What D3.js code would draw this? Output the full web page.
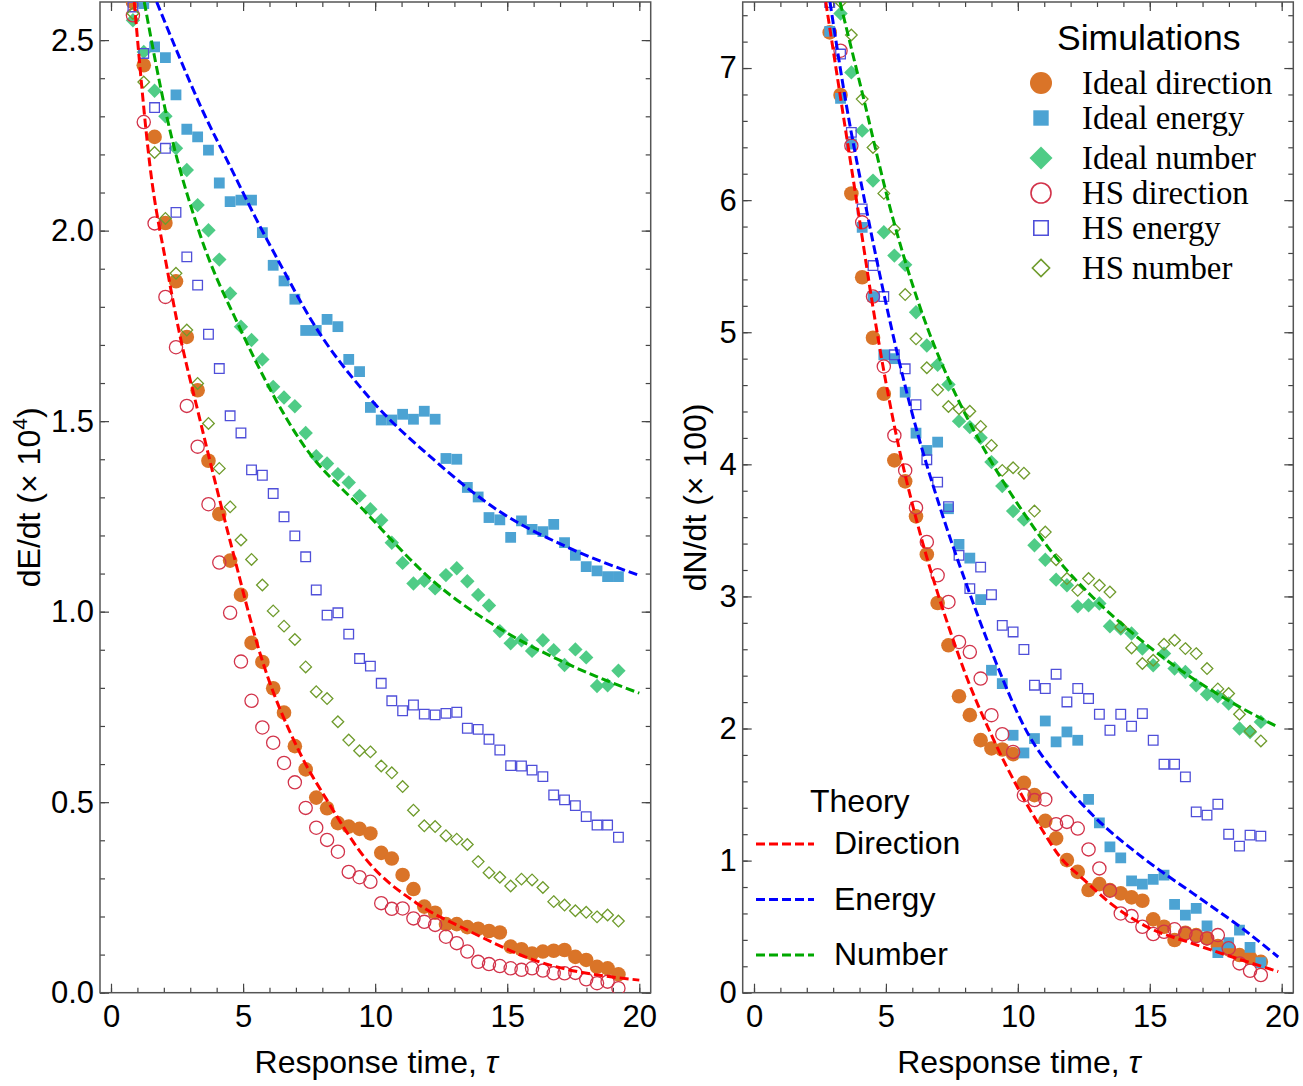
<!DOCTYPE html>
<html>
<head>
<meta charset="utf-8">
<script src="https://cdn.jsdelivr.net/npm/d3@7"></script>
<style>
  body { margin: 0; background: #fff; }
  text { font-family: "Liberation Sans", Arial, sans-serif; }
</style>
</head>
<body>
<script>
// response time grid shared by all simulation series
const tau = [0.83, 1.24, 1.65, 2.06, 2.46, 2.87, 3.28, 3.69, 4.10, 4.51,
  4.92, 5.32, 5.73, 6.14, 6.55, 6.96, 7.37, 7.77, 8.18, 8.59,
  9.00, 9.41, 9.82, 10.23, 10.63, 11.04, 11.45, 11.86, 12.27, 12.68,
  13.09, 13.49, 13.90, 14.31, 14.72, 15.13, 15.54, 15.94, 16.35, 16.76,
  17.17, 17.58, 17.99, 18.40, 18.80, 19.21];

// left panel: dE/dt (x 10^4)
const eIdealDirection = [2.60, 2.434, 2.246, 2.020, 1.867, 1.721, 1.581, 1.396, 1.256, 1.134,
  1.044, 0.918, 0.868, 0.799, 0.735, 0.647, 0.586, 0.512, 0.484, 0.445,
  0.436, 0.430, 0.418, 0.367, 0.352, 0.309, 0.272, 0.226, 0.210, 0.180,
  0.180, 0.172, 0.168, 0.162, 0.158, 0.121, 0.114, 0.103, 0.108, 0.110,
  0.112, 0.094, 0.086, 0.068, 0.064, 0.048];
const eIdealEnergy = [null, 2.596, 2.482, 2.454, 2.356, 2.266, 2.246, 2.211, 2.125, 2.076,
  2.080, 2.080, 1.995, 1.909, 1.868, 1.820, 1.738, 1.738, 1.767, 1.748,
  1.662, 1.630, 1.536, 1.503, 1.503, 1.518, 1.505, 1.526, 1.505, 1.402,
  1.400, 1.326, 1.301, 1.247, 1.241, 1.195, 1.238, 1.216, 1.210, 1.229,
  1.181, 1.148, 1.118, 1.107, 1.092, 1.092];
const eIdealNumber = [2.552, 2.469, 2.367, 2.300, 2.216, 2.159, 2.067, 2.001, 1.924, 1.835,
  1.748, 1.713, 1.662, 1.590, 1.562, 1.539, 1.469, 1.408, 1.389, 1.361,
  1.339, 1.304, 1.269, 1.240, 1.181, 1.128, 1.074, 1.081, 1.061, 1.096,
  1.114, 1.080, 1.044, 1.016, 0.949, 0.917, 0.925, 0.897, 0.925, 0.899,
  0.860, 0.901, 0.880, 0.805, 0.807, 0.845];
const eHSDirection = [2.565, 2.285, 2.019, 1.826, 1.694, 1.540, 1.433, 1.282, 1.129, 0.997,
  0.869, 0.766, 0.696, 0.656, 0.603, 0.552, 0.485, 0.433, 0.401, 0.370,
  0.317, 0.303, 0.291, 0.235, 0.220, 0.221, 0.195, 0.186, 0.178, 0.147,
  0.130, 0.108, 0.081, 0.075, 0.070, 0.064, 0.060, 0.064, 0.058, 0.051,
  0.051, 0.052, 0.035, 0.025, 0.029, 0.012];
const eHSEnergy = [2.587, 2.465, 2.323, 2.216, 2.048, 1.931, 1.857, 1.728, 1.638, 1.514,
  1.469, 1.372, 1.358, 1.310, 1.249, 1.199, 1.144, 1.057, 0.991, 0.997,
  0.941, 0.877, 0.857, 0.812, 0.766, 0.740, 0.755, 0.731, 0.729, 0.733,
  0.736, 0.694, 0.691, 0.665, 0.637, 0.596, 0.595, 0.584, 0.567, 0.519,
  0.506, 0.491, 0.462, 0.440, 0.440, 0.408];
const eHSNumber = [2.570, 2.390, 2.205, 2.032, 1.888, 1.739, 1.599, 1.494, 1.376, 1.275,
  1.188, 1.137, 1.070, 1.002, 0.962, 0.927, 0.855, 0.790, 0.772, 0.711,
  0.663, 0.635, 0.632, 0.595, 0.577, 0.541, 0.479, 0.438, 0.436, 0.412,
  0.403, 0.389, 0.344, 0.315, 0.303, 0.280, 0.298, 0.296, 0.276, 0.239,
  0.230, 0.215, 0.211, 0.199, 0.204, 0.188];

// left panel theory curves
const eDirTheoryX = [0.88, 1.48, 2.11, 2.49, 3.37, 4.63, 5.64, 7.16, 8.17, 9.68, 11.57, 13.47, 16.0, 20.0];
const eDirTheoryY = [2.6, 2.167, 1.905, 1.765, 1.503, 1.153, 0.891, 0.628, 0.506, 0.348, 0.235, 0.165, 0.086, 0.033];
const eEnergyTheoryX = [1.73, 2.5, 3.5, 4.5, 5.5, 6.5, 7.54, 9.8, 12.2, 14.73, 17.25, 20.0];
const eEnergyTheoryY = [2.6, 2.47, 2.31, 2.17, 2.03, 1.90, 1.77, 1.56, 1.40, 1.262, 1.170, 1.095];
const eNumberTheoryX = [1.26, 2.11, 3.37, 4.88, 7.16, 9.68, 12.2, 14.73, 17.25, 20.0];
const eNumberTheoryY = [2.6, 2.30, 1.99, 1.744, 1.45, 1.258, 1.08, 0.955, 0.864, 0.786];

// right panel: dN/dt (x 100)
const nIdealDirection = [null, null, null, null, null, 7.27, 6.796, 6.05, 5.416, 4.958,
  4.534, 4.030, 3.871, 3.606, 3.318, 2.950, 2.630, 2.244, 2.101, 1.912,
  1.849, 1.841, 1.806, 1.589, 1.496, 1.301, 1.168, 1.004, 0.915, 0.777,
  0.822, 0.777, 0.752, 0.722, 0.696, 0.555, 0.499, 0.399, 0.454, 0.436,
  0.411, 0.353, 0.328, 0.285, 0.265, 0.234];
const nIdealEnergy = [null, null, null, null, null, 7.277, 6.770, 6.425, 5.794, 5.27,
  4.829, 4.80, 4.546, 4.236, 4.105, 4.168, 3.664, 3.394, 3.290, 2.976,
  2.441, 2.340, 1.949, 1.815, 1.924, 2.057, 1.899, 1.974, 1.911, 1.463,
  1.286, 1.104, 1.021, 0.847, 0.822, 0.858, 0.890, 0.669, 0.588, 0.638,
  0.505, 0.303, 0.378, 0.474, 0.343, 0.227];
const nIdealNumber = [null, null, null, null, null, null, 7.413, 6.967, 6.526, 6.148,
  5.757, 5.580, 5.510, 5.151, 4.899, 4.753, 4.604, 4.327, 4.282, 4.201,
  4.017, 3.835, 3.646, 3.581, 3.387, 3.278, 3.127, 3.084, 2.925, 2.933,
  2.946, 2.774, 2.756, 2.719, 2.605, 2.479, 2.567, 2.454, 2.428, 2.328,
  2.259, 2.244, 2.189, 2.000, 1.974, 2.050];
const nHSDirection = [null, null, null, null, null, null, 7.131, 6.412, 5.832, 5.27,
  4.741, 4.219, 3.954, 3.672, 3.412, 3.160, 2.958, 2.655, 2.579, 2.378,
  2.101, 1.957, 1.823, 1.495, 1.458, 1.463, 1.276, 1.293, 1.243, 1.085,
  0.941, 0.772, 0.600, 0.580, 0.499, 0.444, 0.461, 0.480, 0.449, 0.429,
  0.411, 0.436, 0.336, 0.222, 0.166, 0.134];
const nHSEnergy = [null, null, null, null, null, 7.496, 7.106, 6.513, 5.933, 5.505,
  5.27, 4.829, 4.723, 4.451, 4.035, 3.865, 3.68, 3.311, 3.059, 3.222,
  3.013, 2.781, 2.731, 2.598, 2.328, 2.303, 2.411, 2.201, 2.303, 2.227,
  2.108, 1.987, 2.108, 2.017, 2.113, 1.911, 1.730, 1.730, 1.634, 1.369,
  1.344, 1.427, 1.200, 1.110, 1.193, 1.185];
const nHSNumber = [null, null, null, null, null, null, 7.50, 7.25, 6.765, 6.399,
  6.051, 5.782, 5.285, 4.950, 4.731, 4.564, 4.438, 4.421, 4.402, 4.287,
  4.143, 3.954, 3.974, 3.933, 3.646, 3.487, 3.278, 3.135, 3.046, 3.135,
  3.084, 3.033, 2.769, 2.610, 2.492, 2.517, 2.638, 2.668, 2.605, 2.567,
  2.454, 2.30, 2.265, 2.108, 1.98, 1.906];

const nDirTheoryX = [2.72, 3.3, 4.0, 4.5, 5.0, 5.5, 6.0, 6.5, 7.0, 7.5, 8.0, 9.07, 10.08, 10.96, 11.59, 12.48, 13.49, 14.88, 16.65, 19.87];
const nDirTheoryY = [7.5, 6.75, 5.85, 5.2, 4.62, 4.12, 3.70, 3.33, 3.0, 2.70, 2.42, 1.92, 1.52, 1.22, 1.03, 0.86, 0.68, 0.50, 0.37, 0.16];
const nEnergyTheoryX = [2.88, 3.5, 4.27, 5.0, 5.91, 7.17, 8.0, 9.07, 10.33, 11.59, 12.86, 14.75, 16.65, 18.55, 19.87];
const nEnergyTheoryY = [7.5, 6.72, 5.92, 5.22, 4.45, 3.60, 3.12, 2.55, 1.98, 1.62, 1.34, 1.02, 0.75, 0.48, 0.27];
const nNumberTheoryX = [3.26, 4.02, 5.28, 6.54, 7.43, 8.82, 10.33, 11.59, 12.86, 14.12, 15.76, 17.91, 19.87];
const nNumberTheoryY = [7.5, 6.88, 5.85, 5.05, 4.62, 4.08, 3.60, 3.26, 2.99, 2.76, 2.50, 2.22, 2.01];

const simNames = ["Ideal direction", "Ideal energy", "Ideal number", "HS direction", "HS energy", "HS number"];
const theoryNames = ["Direction", "Energy", "Number"];

// marker look for each simulation series
const simStyles = [
  { shape: "circle", r: 7.3, fill: "#da7428", stroke: "none" },
  { shape: "square", r: 5.4, fill: "#4ca3d3", stroke: "none" },
  { shape: "diamond", r: 7.2, fill: "#4fcc86", stroke: "none" },
  { shape: "circle", r: 6.6, fill: "none", stroke: "#d2334a" },
  { shape: "square", r: 4.8, fill: "none", stroke: "#4f4fd9" },
  { shape: "diamond", r: 5.8, fill: "none", stroke: "#6f9b2c" }
];
const theoryColors = ["#ff0000", "#0000ff", "#00a800"];

function markerPath(shape, r) {
  if (shape === "circle") return d3.symbol(d3.symbolCircle, Math.PI * r * r)();
  if (shape === "square") return d3.symbol(d3.symbolSquare, 4 * r * r)();
  return `M0,${-r}L${r},0L0,${r}L${-r},0Z`;
}

var svg = d3.select("body").append("svg")
  .attr("width", 1303)
  .attr("height", 1086);

function drawPanel(p) {
  var x = d3.scaleLinear().domain([0, 20]).range(p.xRange);
  var y = d3.scaleLinear().domain([0, p.yMax]).range([p.bottom, p.top]);

  svg.append("clipPath").attr("id", "clip-" + p.id)
    .append("rect")
    .attr("x", p.left).attr("y", p.top)
    .attr("width", p.right - p.left).attr("height", p.bottom - p.top);

  // ticks, all pointing inward, on the four sides
  function styleAxis(g) {
    g.select(".domain").remove();
    g.selectAll("line").attr("stroke", "#444").attr("stroke-width", 1.2);
    g.selectAll("text").attr("font-family", "Liberation Sans, Arial, sans-serif")
      .attr("font-size", 31).attr("fill", "#000");
  }
  var xMinor = d3.range(0, 21);
  var xMajor = [0, 5, 10, 15, 20];

  svg.append("g").attr("transform", `translate(0,${p.bottom})`)
    .call(d3.axisBottom(x).tickValues(xMinor).tickSizeInner(-5).tickSizeOuter(0).tickFormat(""))
    .call(styleAxis);
  svg.append("g").attr("transform", `translate(0,${p.bottom})`)
    .call(d3.axisBottom(x).tickValues(xMajor).tickSizeInner(-9).tickSizeOuter(0).tickPadding(12))
    .call(styleAxis);
  svg.append("g").attr("transform", `translate(0,${p.top})`)
    .call(d3.axisTop(x).tickValues(xMinor).tickSizeInner(-5).tickSizeOuter(0).tickFormat(""))
    .call(styleAxis);
  svg.append("g").attr("transform", `translate(0,${p.top})`)
    .call(d3.axisTop(x).tickValues(xMajor).tickSizeInner(-9).tickSizeOuter(0).tickFormat(""))
    .call(styleAxis);

  svg.append("g").attr("transform", `translate(${p.left},0)`)
    .call(d3.axisLeft(y).tickValues(p.yMinor).tickSizeInner(-5).tickSizeOuter(0).tickFormat(""))
    .call(styleAxis);
  svg.append("g").attr("transform", `translate(${p.left},0)`)
    .call(d3.axisLeft(y).tickValues(p.yMajor).tickSizeInner(-9).tickSizeOuter(0).tickPadding(6).tickFormat(p.yFormat))
    .call(styleAxis);
  svg.append("g").attr("transform", `translate(${p.right},0)`)
    .call(d3.axisRight(y).tickValues(p.yMinor).tickSizeInner(-5).tickSizeOuter(0).tickFormat(""))
    .call(styleAxis);
  svg.append("g").attr("transform", `translate(${p.right},0)`)
    .call(d3.axisRight(y).tickValues(p.yMajor).tickSizeInner(-9).tickSizeOuter(0).tickFormat(""))
    .call(styleAxis);

  // frame
  svg.append("rect")
    .attr("x", p.left).attr("y", p.top)
    .attr("width", p.right - p.left).attr("height", p.bottom - p.top)
    .attr("fill", "none").attr("stroke", "#555").attr("stroke-width", 1.5);

  var plot = svg.append("g").attr("clip-path", `url(#clip-${p.id})`);

  // simulation markers
  p.sims.forEach(function(vals, i) {
    var st = simStyles[i];
    var pts = tau.map((t, j) => [t, vals[j]]).filter(d => d[1] != null);
    plot.append("g").selectAll("path")
      .data(pts)
      .enter()
      .append("path")
      .attr("transform", d => `translate(${x(d[0])},${y(d[1])})`)
      .attr("d", markerPath(st.shape, st.r))
      .attr("fill", st.fill)
      .attr("stroke", st.stroke)
      .attr("stroke-width", 1.3);
  });

  // theory curves
  var line = d3.line()
    .x(d => x(d[0]))
    .y(d => y(d[1]))
    .curve(d3.curveMonotoneX);
  p.theory.forEach(function(t, i) {
    plot.append("path")
      .datum(d3.zip(t[0], t[1]))
      .attr("d", line)
      .attr("fill", "none")
      .attr("stroke", theoryColors[i])
      .attr("stroke-width", 3)
      .attr("stroke-dasharray", "9,4");
  });

  // axis titles
  var xt = svg.append("text")
    .attr("x", (p.xRange[0] + p.xRange[1]) / 2 + 1)
    .attr("y", 1073)
    .attr("text-anchor", "middle")
    .attr("font-size", 32);
  xt.append("tspan").text("Response time, ");
  xt.append("tspan").attr("font-style", "italic").text("τ");

  var yt = svg.append("text")
    .attr("transform", `translate(${p.yTitleX},${(p.top + p.bottom) / 2}) rotate(-90)`)
    .attr("text-anchor", "middle")
    .attr("font-size", 32);
  p.yTitle(yt);
}

drawPanel({
  id: "left", left: 100, right: 650.7, top: 2, bottom: 992.7,
  xRange: [111, 639.3], yMax: 2.6,
  yMajor: [0, 0.5, 1, 1.5, 2, 2.5],
  yMinor: d3.range(0, 26).map(i => i / 10),
  yFormat: d3.format(".1f"),
  yTitleX: 40,
  yTitle: function(t) {
    t.append("tspan").text("dE/dt (× 10");
    t.append("tspan").attr("font-size", 21).attr("dy", -13).text("4");
    t.append("tspan").attr("dy", 13).text(")");
  },
  sims: [eIdealDirection, eIdealEnergy, eIdealNumber, eHSDirection, eHSEnergy, eHSNumber],
  theory: [[eDirTheoryX, eDirTheoryY], [eEnergyTheoryX, eEnergyTheoryY], [eNumberTheoryX, eNumberTheoryY]]
});

drawPanel({
  id: "right", left: 742.7, right: 1293.3, top: 2, bottom: 992.7,
  xRange: [754, 1281.7], yMax: 7.5,
  yMajor: [0, 1, 2, 3, 4, 5, 6, 7],
  yMinor: d3.range(0, 38).map(i => i / 5),
  yFormat: d3.format("d"),
  yTitleX: 706,
  yTitle: function(t) { t.text("dN/dt (× 100)"); },
  sims: [nIdealDirection, nIdealEnergy, nIdealNumber, nHSDirection, nHSEnergy, nHSNumber],
  theory: [[nDirTheoryX, nDirTheoryY], [nEnergyTheoryX, nEnergyTheoryY], [nNumberTheoryX, nNumberTheoryY]]
});

// Simulations legend
var legendRows = [83, 118, 158, 193, 228, 268];
var legendSizes = [11, 7.7, 11.5, 10, 7.2, 8.6];
svg.append("text")
  .attr("x", 1057).attr("y", 50)
  .attr("font-size", 35.5)
  .text("Simulations");
simNames.forEach(function(name, i) {
  var st = simStyles[i];
  svg.append("path")
    .attr("transform", `translate(1041,${legendRows[i]})`)
    .attr("d", markerPath(st.shape, legendSizes[i]))
    .attr("fill", st.fill)
    .attr("stroke", st.stroke)
    .attr("stroke-width", 1.6);
  svg.append("text")
    .attr("x", 1082).attr("y", legendRows[i] + 11)
    .style("font-family", "'Liberation Serif', 'Times New Roman', serif")
    .attr("font-size", 32.8)
    .text(name);
});

// Theory legend
svg.append("text")
  .attr("x", 810).attr("y", 812)
  .attr("font-size", 32)
  .text("Theory");
var theoryRows = [844, 899.5, 955];
theoryNames.forEach(function(name, i) {
  svg.append("line")
    .attr("x1", 756).attr("x2", 814)
    .attr("y1", theoryRows[i]).attr("y2", theoryRows[i])
    .attr("stroke", theoryColors[i])
    .attr("stroke-width", 3)
    .attr("stroke-dasharray", "9,4");
  svg.append("text")
    .attr("x", 834).attr("y", theoryRows[i] + 10)
    .attr("font-size", 32)
    .text(name);
});
</script>
</body>
</html>
